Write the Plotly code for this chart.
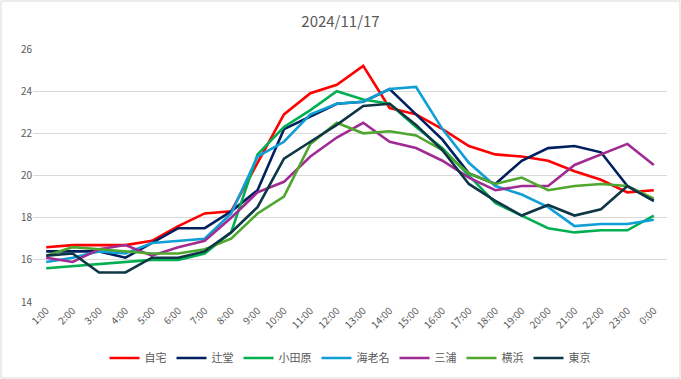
import plotly.graph_objects as go

hours = ["1:00","2:00","3:00","4:00","5:00","6:00","7:00","8:00","9:00","10:00","11:00","12:00",
         "13:00","14:00","15:00","16:00","17:00","18:00","19:00","20:00","21:00","22:00","23:00","0:00"]

jitaku   = [16.6,16.7,16.7,16.7,16.9,17.6,18.2,18.3,20.6,22.9,23.9,24.3,25.2,23.2,22.9,22.2,21.4,21.0,20.9,20.7,20.2,19.8,19.2,19.3]
tsujido  = [16.4,16.4,16.4,16.1,16.8,17.5,17.5,18.3,19.3,22.2,22.8,23.4,23.5,24.1,22.9,21.7,20.1,19.6,20.7,21.3,21.4,21.1,19.5,18.8]
odawara  = [15.6,15.7,15.8,15.9,16.0,16.0,16.3,17.3,21.0,22.3,23.1,24.0,23.6,23.4,22.3,21.3,20.0,18.7,18.1,17.5,17.3,17.4,17.4,18.1]
ebina    = [15.9,16.1,16.4,16.3,16.8,16.9,17.0,18.2,20.9,21.6,22.9,23.4,23.5,24.1,24.2,22.2,20.6,19.5,19.1,18.5,17.6,17.7,17.7,17.9]
miura    = [16.1,15.9,16.5,16.7,16.2,16.6,16.9,18.0,19.2,19.7,20.9,21.8,22.5,21.6,21.3,20.7,19.9,19.3,19.5,19.5,20.5,21.0,21.5,20.5]
yokohama = [16.2,16.6,16.5,16.4,16.3,16.3,16.5,17.0,18.2,19.0,21.5,22.5,22.0,22.1,21.9,21.2,20.1,19.6,19.9,19.3,19.5,19.6,19.5,18.9]
tokyo    = [16.2,16.3,15.4,15.4,16.1,16.1,16.4,17.3,18.5,20.8,21.6,22.4,23.3,23.4,22.4,21.2,19.6,18.8,18.1,18.6,18.1,18.4,19.5,18.8]

series_names = ["自宅","辻堂","小田原","海老名","三浦","横浜","東京"]
series_values = [jitaku, tsujido, odawara, ebina, miura, yokohama, tokyo]
series_colors = ["#FF0000","#002060","#00B050","#0F9ED5","#A02B93","#4EA72E","#0E3647"]

y_ticks = [14,16,18,20,22,24,26]

FONT = "Noto Sans CJK JP"
W, H = 681, 379
L, R, T, B = 33, 14, 49, 77
pw, ph = W - L - R, H - T - B

fig = go.Figure()
for name, vals, col in zip(series_names, series_values, series_colors):
    fig.add_trace(go.Scatter(x=hours, y=vals, name=name, mode="lines",
                             line=dict(color=col, width=2.6)))

fig.update_layout(
    width=W, height=H,
    margin=dict(l=L, r=R, t=T, b=B, pad=0, autoexpand=False),
    paper_bgcolor="white", plot_bgcolor="white",
    font=dict(family=FONT, color="#595959", size=10),
    title=dict(text="2024/11/17", x=0.5, xanchor="center", y=1 - 22/H, yanchor="middle",
               font=dict(size=15, color="#595959", family=FONT)),
    showlegend=True,
    legend=dict(orientation="h", x=0.5, xanchor="center", y=(T + ph - 358) / ph, yanchor="middle",
                font=dict(size=11, color="#595959", family=FONT),
                itemwidth=30, traceorder="normal", bgcolor="rgba(0,0,0,0)"),
    xaxis=dict(type="category", categoryorder="array", categoryarray=hours,
               range=[-0.5, len(hours) - 0.5], tickangle=-45, showgrid=False,
               showline=False, zeroline=False, ticks="", automargin=False,
               tickfont=dict(size=10, color="#595959", family=FONT)),
    yaxis=dict(range=[14, 26], tickvals=y_ticks, showgrid=True, gridcolor="#D9D9D9", gridwidth=1,
               zeroline=False, showline=False, ticks="", automargin=False,
               tickfont=dict(size=10, color="#595959", family=FONT)),
)

fig.add_shape(type="rect", xref="paper", yref="paper",
              x0=(1 - L) / pw, x1=(W - 1 - L) / pw,
              y0=-(B - 1) / ph, y1=1 + (T - 1) / ph,
              line=dict(color="#D9D9D9", width=1), fillcolor="rgba(0,0,0,0)", layer="below")

fig.write_html("out.html", config={"displayModeBar": False},
               post_script="document.body.style.margin='0';document.body.style.padding='0';")
